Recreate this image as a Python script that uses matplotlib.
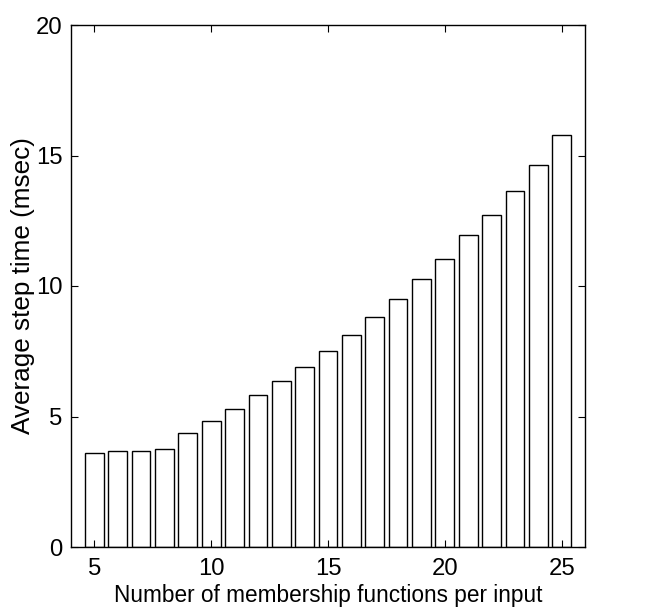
import matplotlib
matplotlib.use("Agg")
import matplotlib.pyplot as plt

n_mf = [5, 6, 7, 8, 9, 10, 11, 12, 13, 14, 15, 16, 17, 18, 19, 20, 21, 22, 23, 24, 25]
step_time = [3.59, 3.67, 3.67, 3.74, 4.36, 4.82, 5.28, 5.81, 6.35, 6.88, 7.50,
             8.11, 8.80, 9.49, 10.26, 11.02, 11.94, 12.71, 13.63, 14.62, 15.77]
xticks = [5, 10, 15, 20, 25]
yticks = [0, 5, 10, 15, 20]

plt.rcParams['font.family'] = ['Liberation Sans', 'DejaVu Sans']

fig = plt.figure(figsize=(6.53, 6.12), dpi=100)
ax = fig.add_axes([71/653, 65/612, (585-71)/653, (547-25)/612])
ax.bar(n_mf, step_time, width=0.8, facecolor='white', edgecolor='black', linewidth=1.0)
ax.set_xlim(4, 26)
ax.set_ylim(0, 20)
ax.set_xticks(xticks)
ax.set_yticks(yticks)
ax.tick_params(direction='in', top=True, right=True, labelsize=17.2, length=5, width=0.8)
ax.tick_params(axis='x', pad=8)
ax.tick_params(axis='y', pad=6)
for s in ax.spines.values():
    s.set_linewidth(1.0)
ax.set_xlabel('Number of membership functions per input', fontsize=16.3, labelpad=3)
ax.set_ylabel('Average step time (msec)', fontsize=18.8, labelpad=1)
fig.savefig('out.png', dpi=100)
